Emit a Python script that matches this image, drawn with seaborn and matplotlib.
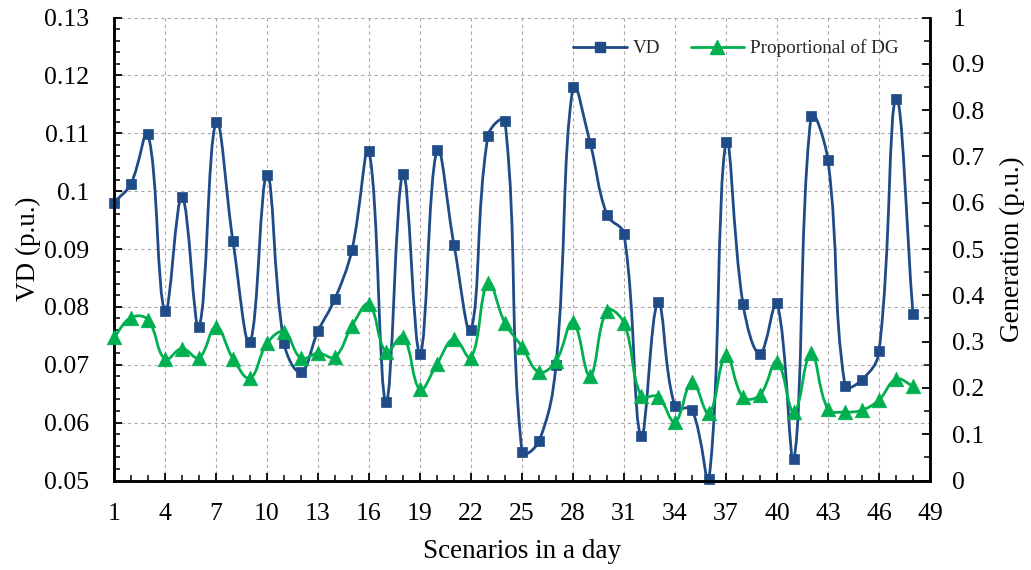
import numpy as np
import pandas as pd
import matplotlib
matplotlib.use("Agg")
import matplotlib.pyplot as plt
import seaborn as sns
from matplotlib.path import Path
from matplotlib.patches import PathPatch
from matplotlib.lines import Line2D
from matplotlib.ticker import MultipleLocator, FixedLocator

# ---- data ----
scenarios = list(range(1, 49))
vd = [0.0980, 0.1013, 0.1099, 0.0793, 0.0990, 0.0766, 0.1119, 0.0913, 0.0739, 0.1028,
      0.0738, 0.0687, 0.0758, 0.0814, 0.0899, 0.1069, 0.0636, 0.1030, 0.0719, 0.1071,
      0.0907, 0.0760, 0.1096, 0.1121, 0.0549, 0.0568, 0.0700, 0.1180, 0.1084, 0.0959,
      0.0926, 0.0577, 0.0808, 0.0628, 0.0622, 0.0503, 0.1085, 0.0805, 0.0719, 0.0806,
      0.0537, 0.1129, 0.1053, 0.0664, 0.0674, 0.0723, 0.1160, 0.0787]
dg = [0.309, 0.352, 0.347, 0.262, 0.285, 0.265, 0.332, 0.263, 0.221, 0.296,
      0.321, 0.264, 0.275, 0.267, 0.334, 0.381, 0.278, 0.311, 0.197, 0.252,
      0.306, 0.265, 0.427, 0.340, 0.289, 0.234, 0.258, 0.343, 0.226, 0.367,
      0.340, 0.183, 0.181, 0.127, 0.213, 0.145, 0.271, 0.180, 0.185, 0.257,
      0.147, 0.276, 0.154, 0.148, 0.152, 0.174, 0.219, 0.204]
x_ticks = list(range(1, 50, 3))
left_ticks = [0.05, 0.06, 0.07, 0.08, 0.09, 0.10, 0.11, 0.12, 0.13]
left_labels = ["0.05", "0.06", "0.07", "0.08", "0.09", "0.1", "0.11", "0.12", "0.13"]
right_ticks = [0, 0.1, 0.2, 0.3, 0.4, 0.5, 0.6, 0.7, 0.8, 0.9, 1.0]
right_labels = ["0", "0.1", "0.2", "0.3", "0.4", "0.5", "0.6", "0.7", "0.8", "0.9", "1"]
series_names = ["VD", "Proportional of DG"]

df = pd.DataFrame({"scenario": scenarios, "vd": vd, "dg": dg})

BLUE = "#1F4B87"
GREEN = "#00B050"

sns.set_theme(style="white")
plt.rcParams["font.family"] = ["Liberation Serif", "DejaVu Serif"]

fig = plt.figure(figsize=(10.31, 5.70), dpi=100)
ax = fig.add_axes([114 / 1031, 1 - 480.5 / 570, (930 - 114) / 1031, (480.5 - 17.5) / 570])
ax2 = ax.twinx()

ax.set_xlim(1, 49)
ax.set_ylim(0.05, 0.13)
ax2.set_ylim(0, 1)


def smooth_path(a, xs, ys, k=0.4):
    """Spreadsheet-style smoothed curve: cubic Bezier segments whose control
    points follow the neighbouring points, scaled by on-screen chord lengths."""
    data = np.column_stack([np.asarray(xs, float), np.asarray(ys, float)])
    pts = a.transData.transform(data)
    n = len(pts)
    verts = [pts[0]]
    codes = [Path.MOVETO]
    for i in range(n - 1):
        p0 = pts[i - 1] if i > 0 else pts[i]
        p1 = pts[i]
        p2 = pts[i + 1]
        p3 = pts[i + 2] if i + 2 < n else pts[i + 1]
        d01 = np.hypot(*(p1 - p0))
        d12 = np.hypot(*(p2 - p1))
        d23 = np.hypot(*(p3 - p2))
        f1 = k * d12 / (d01 + d12) if d01 + d12 > 0 else 0
        f2 = k * d12 / (d12 + d23) if d12 + d23 > 0 else 0
        c1 = p1 + (p2 - p0) * f1
        c2 = p2 - (p3 - p1) * f2
        verts += [c1, c2, p2]
        codes += [Path.CURVE4] * 3
    back = a.transData.inverted().transform(np.array(verts))
    return Path(back, codes)


# VD on left axis
ax.add_patch(PathPatch(smooth_path(ax, df["scenario"], df["vd"]), facecolor="none",
                       edgecolor=BLUE, lw=2.0, zorder=3, clip_on=False))
sns.scatterplot(data=df, x="scenario", y="vd", ax=ax, marker="s", s=42, color=BLUE,
                edgecolor=BLUE, linewidth=0.5, zorder=4, clip_on=False, legend=False)

# DG on right axis
ax2.add_patch(PathPatch(smooth_path(ax2, df["scenario"], df["dg"]), facecolor="none",
                        edgecolor=GREEN, lw=2.0, zorder=3, clip_on=False))
sns.scatterplot(data=df, x="scenario", y="dg", ax=ax2, marker="^", s=110, color=GREEN,
                edgecolor=GREEN, linewidth=0.5, zorder=4, clip_on=False, legend=False)

ax.set_xlim(1, 49)
ax.set_ylim(0.05, 0.13)
ax2.set_ylim(0, 1)

ax.xaxis.set_major_locator(FixedLocator(x_ticks))
ax.xaxis.set_minor_locator(MultipleLocator(1))
ax.set_xticklabels([str(t) for t in x_ticks])
ax.yaxis.set_major_locator(FixedLocator(left_ticks))
ax.yaxis.set_minor_locator(MultipleLocator(0.002))
ax.set_yticklabels(left_labels)
ax2.yaxis.set_major_locator(FixedLocator(right_ticks))
ax2.yaxis.set_minor_locator(MultipleLocator(0.05))
ax2.set_yticklabels(right_labels)

ax.tick_params(axis="both", which="major", direction="in", length=6, width=1.3,
               labelsize=18.5, color="black", labelcolor="black")
ax.tick_params(axis="both", which="minor", direction="in", length=4, width=1.1, color="black")
ax.tick_params(axis="y", which="major", pad=18, left=True, right=False)
ax.tick_params(axis="y", which="minor", left=True, right=False)
ax.tick_params(axis="x", which="major", pad=16, bottom=True, top=False)
ax.tick_params(axis="x", which="minor", bottom=True, top=False)
ax2.tick_params(axis="y", which="major", direction="in", length=6, width=1.3,
                labelsize=18.5, pad=16, color="black", labelcolor="black")
ax2.tick_params(axis="y", which="minor", direction="in", length=4, width=1.1, color="black")

ax.grid(True, which="major", axis="both", linestyle=(0, (3, 3)), color="#A8A8A8", lw=0.8)
ax.set_axisbelow(True)

for a in (ax, ax2):
    for side in ("left", "right", "bottom"):
        a.spines[side].set_color("black")
        a.spines[side].set_linewidth(1.8)
    a.spines["top"].set_visible(False)

ax.set_xlabel("Scenarios in a day", fontsize=19.5, labelpad=10, color="black")
ax.set_ylabel("VD (p.u.)", fontsize=19.5, labelpad=2, color="black")
ax2.set_ylabel("Generation (p.u.)", fontsize=19.5, labelpad=11, color="black")

handles = [
    Line2D([], [], color=BLUE, lw=2.0, marker="s", markersize=6.5),
    Line2D([], [], color=GREEN, lw=2.0, marker="^", markersize=10),
]
leg = ax2.legend(handles, series_names, loc="center left", ncol=2, frameon=False,
                 bbox_to_anchor=(573 / 1031, 1 - 48.3 / 570), bbox_transform=fig.transFigure,
                 fontsize=13.8, handlelength=2.8, handletextpad=0.3, columnspacing=1.6,
                 borderpad=0, borderaxespad=0)

fig.savefig("out.png", dpi=100)
